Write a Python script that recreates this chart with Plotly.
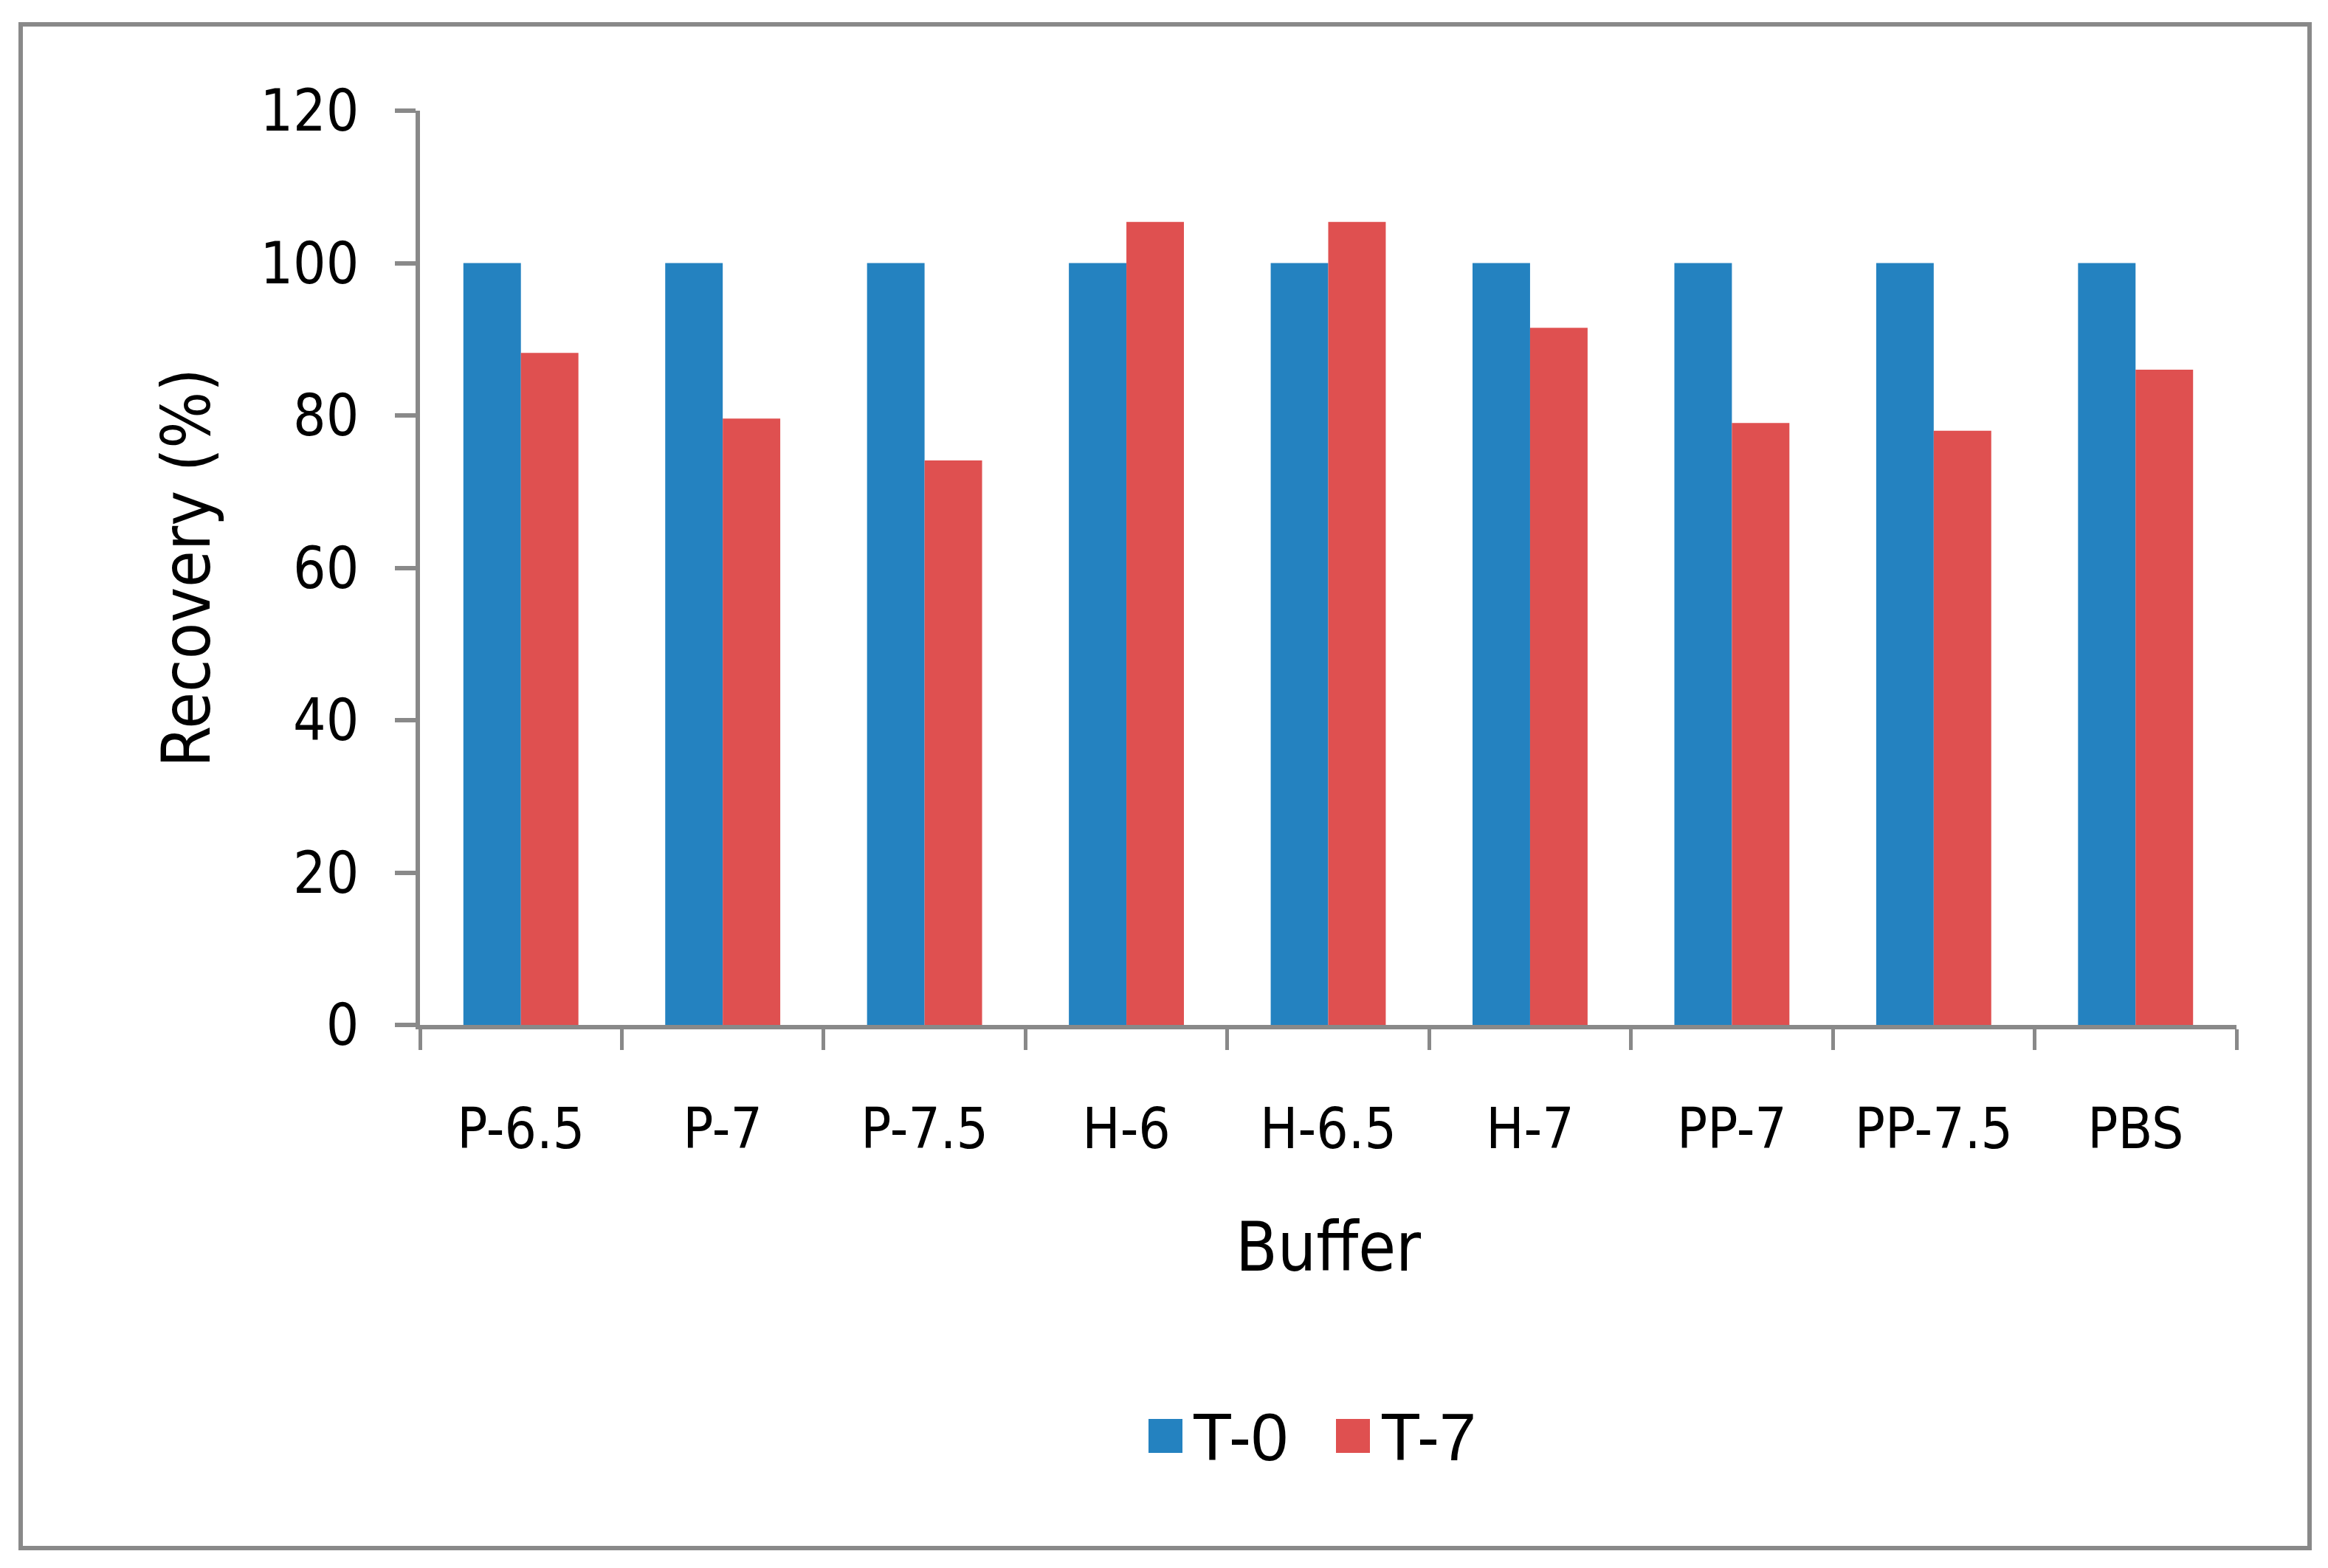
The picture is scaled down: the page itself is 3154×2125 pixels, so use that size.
import plotly.graph_objects as go

# ---- data ----
categories = ["P-6.5", "P-7", "P-7.5", "H-6", "H-6.5", "H-7", "PP-7", "PP-7.5", "PBS"]
t0_values = [100, 100, 100, 100, 100, 100, 100, 100, 100]
t7_values = [88.2, 79.6, 74.1, 105.4, 105.4, 91.5, 79.0, 78.0, 86.0]
series_names = ["T-0", "T-7"]
y_ticks = [0, 20, 40, 60, 80, 100, 120]

# ---- style ----
BLUE = "#2482C0"
RED = "#DF5050"
GRAY = "#898989"
W, H = 3154, 2125
L, R, T, B = 569, 3154 - 3030, 150, 2125 - 1389
PW, PH = W - L - R, H - T - B
TICK_FONT = "DejaVu Sans Condensed, DejaVu Sans, sans-serif"
LEG_FONT = "Liberation Sans Narrow, Liberation Sans, Arial, sans-serif"


def px_x(px):
    return (px - L) / PW


def px_y(py):
    return (H - B - py) / PH


fig = go.Figure()
fig.add_trace(go.Bar(x=categories, y=t0_values, name=series_names[0],
                     marker=dict(color=BLUE, line=dict(width=0))))
fig.add_trace(go.Bar(x=categories, y=t7_values, name=series_names[1],
                     marker=dict(color=RED, line=dict(width=0))))

fig.update_layout(
    width=W, height=H,
    margin=dict(l=L, r=R, t=T, b=B, autoexpand=False),
    paper_bgcolor="white", plot_bgcolor="white",
    barmode="group", bargap=0.43, bargroupgap=0,
    showlegend=False,
    font=dict(family=TICK_FONT, color="black", size=76),
)

fig.update_xaxes(
    type="category",
    showline=True, linecolor=GRAY, linewidth=6,
    ticks="outside", tickson="boundaries", ticklen=28, tickwidth=5, tickcolor=GRAY,
    tickfont=dict(family=TICK_FONT, size=76, color="black"),
    ticklabelstandoff=70,
    showgrid=False, zeroline=False,
    title=dict(text="Buffer", font=dict(family=TICK_FONT, size=92, color="black"), standoff=86),
    automargin=False,
)
fig.update_yaxes(
    range=[0, 120], tickvals=y_ticks,
    showline=True, linecolor=GRAY, linewidth=6,
    ticks="outside", ticklen=28, tickwidth=6, tickcolor=GRAY,
    tickfont=dict(family=TICK_FONT, size=78, color="black"),
    ticklabelstandoff=33,
    showgrid=False, zeroline=False,
    title=dict(text="Recovery (%)", font=dict(family=TICK_FONT, size=90, color="black"), standoff=40),
    automargin=False,
)

# outer chart frame
fig.add_shape(type="rect", xref="paper", yref="paper",
              x0=px_x(28), x1=px_x(3129), y0=px_y(2098), y1=px_y(33),
              line=dict(color=GRAY, width=6), fillcolor="rgba(0,0,0,0)", layer="below")

# custom legend (large square keys)
legend_items = [(series_names[0], BLUE, 1556, 1613), (series_names[1], RED, 1810, 1868)]
for name, col, sq_x, tx in legend_items:
    fig.add_shape(type="rect", xref="paper", yref="paper",
                  x0=px_x(sq_x), x1=px_x(sq_x + 46), y0=px_y(1969), y1=px_y(1923),
                  line=dict(width=0), fillcolor=col)
    fig.add_annotation(xref="paper", yref="paper", x=px_x(tx), y=px_y(1948),
                       xanchor="left", yanchor="middle", showarrow=False, text=name,
                       font=dict(family=LEG_FONT, size=90, color="black"))

fig.write_html("out.html", config={"displayModeBar": False},
               post_script="document.body.style.margin='0';")
